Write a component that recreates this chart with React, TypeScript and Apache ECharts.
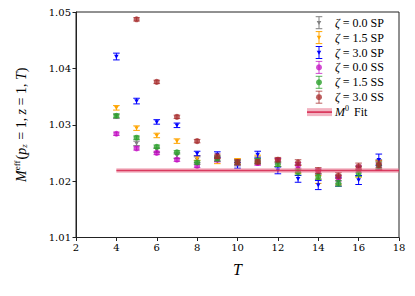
import React, { useEffect, useRef } from "react";
import * as echarts from "echarts";

const T = [4, 5, 6, 7, 8, 9, 10, 11, 12, 13, 14, 15, 16, 17];

const sp00 = [1.0315, 1.0267, 1.0255, 1.0245, 1.0238, 1.024, 1.0233, 1.0237, 1.0233, 1.0222, 1.0212, 1.0203, 1.0218, 1.0229];
const sp00Err = [0.0004, 0.0004, 0.0004, 0.0005, 0.0005, 0.0005, 0.0006, 0.0006, 0.0007, 0.0007, 0.0008, 0.0008, 0.0008, 0.0009];
const sp15 = [1.033, 1.0294, 1.0281, 1.0271, 1.0241, 1.0236, 1.0235, 1.024, 1.0232, 1.0221, 1.0203, 1.0201, 1.0215, 1.0228];
const sp15Err = [0.0004, 0.0004, 0.0004, 0.0004, 0.0004, 0.0005, 0.0005, 0.0006, 0.0006, 0.0007, 0.0007, 0.0008, 0.0008, 0.0008];
const sp30 = [1.0421, 1.0342, 1.0305, 1.0299, 1.0249, 1.0247, 1.0228, 1.0247, 1.0219, 1.0204, 1.0193, 1.0199, 1.0202, 1.0238];
const sp30Err = [0.0006, 0.0005, 0.0004, 0.0004, 0.0004, 0.0005, 0.0005, 0.0006, 0.0006, 0.0006, 0.0008, 0.0008, 0.0008, 0.001];
const ss00 = [1.0284, 1.0258, 1.025, 1.0238, 1.0227, 1.0238, 1.0232, 1.0232, 1.0236, 1.0228, 1.0217, 1.0205, 1.0222, 1.0226];
const ss00Err = [0.0003, 0.0003, 0.0003, 0.0003, 0.0003, 0.0004, 0.0004, 0.0004, 0.0004, 0.0005, 0.0005, 0.0005, 0.0006, 0.0006];
const ss15 = [1.0316, 1.0277, 1.0261, 1.0251, 1.0233, 1.024, 1.0233, 1.0236, 1.023, 1.0216, 1.0208, 1.0196, 1.0214, 1.0228];
const ss15Err = [0.0003, 0.0003, 0.0003, 0.0003, 0.0003, 0.0004, 0.0004, 0.0004, 0.0004, 0.0005, 0.0005, 0.0005, 0.0006, 0.0006];
const ss30 = [null, 1.0487, 1.0376, 1.0314, 1.0271, 1.0244, 1.0234, 1.0234, 1.0238, 1.0233, 1.0219, 1.021, 1.0226, 1.023];
const ss30Err = [0, 0.0003, 0.0003, 0.0003, 0.0003, 0.0004, 0.0004, 0.0004, 0.0004, 0.0005, 0.0005, 0.0005, 0.0006, 0.0006];

const fitValue = 1.0219;
const fitErr = 0.0004;
const fitRange = [4, 18];

const legendLabels = ["0.0 SP", "1.5 SP", "3.0 SP", "0.0 SS", "1.5 SS", "3.0 SS"];

const SERIF = '"Liberation Serif", "DejaVu Serif", serif';
const TICKFONT = '"DejaVu Serif", serif';

type Cfg = { name: string; vals: (number | null)[]; errs: number[]; color: string; marker: "tri" | "circle"; opacity: number };

const configs: Cfg[] = [
  { name: legendLabels[0], vals: sp00, errs: sp00Err, color: "#808080", marker: "tri", opacity: 1 },
  { name: legendLabels[1], vals: sp15, errs: sp15Err, color: "#FFA500", marker: "tri", opacity: 1 },
  { name: legendLabels[2], vals: sp30, errs: sp30Err, color: "#0000FF", marker: "tri", opacity: 1 },
  { name: legendLabels[3], vals: ss00, errs: ss00Err, color: "#BF00BF", marker: "circle", opacity: 0.7 },
  { name: legendLabels[4], vals: ss15, errs: ss15Err, color: "#2ca02c", marker: "circle", opacity: 0.8 },
  { name: legendLabels[5], vals: ss30, errs: ss30Err, color: "#A52A2A", marker: "circle", opacity: 0.75 },
];

function markerShape(kind: string, cx: number, cy: number, color: string, opacity: number) {
  if (kind === "circle") {
    return { type: "circle", shape: { cx, cy, r: 3 }, style: { fill: color, opacity } };
  }
  return {
    type: "polygon",
    shape: { points: [[cx - 2.3, cy - 1.8], [cx + 2.3, cy - 1.8], [cx, cy + 2.2]] },
    style: { fill: color, opacity },
  };
}

function errBarChildren(cx: number, yTop: number, yBot: number, cy: number, color: string, kind: string, opacity: number) {
  const cap = 3.3;
  const ls = { stroke: color, lineWidth: 1, opacity };
  return [
    { type: "line", shape: { x1: cx, y1: yTop, x2: cx, y2: yBot }, style: ls },
    { type: "line", shape: { x1: cx - cap, y1: yTop, x2: cx + cap, y2: yTop }, style: ls },
    { type: "line", shape: { x1: cx - cap, y1: yBot, x2: cx + cap, y2: yBot }, style: ls },
    markerShape(kind, cx, cy, color, opacity),
  ];
}

function makeSeries(c: Cfg) {
  const data: number[][] = [];
  T.forEach((t, i) => {
    const v = c.vals[i];
    if (v != null) data.push([t, v, c.errs[i]]);
  });
  return {
    type: "custom",
    name: c.name,
    data,
    clip: true,
    renderItem: (params: any, api: any) => {
      const x = api.value(0);
      const y = api.value(1);
      const e = api.value(2);
      const p = api.coord([x, y]);
      const top = api.coord([x, y + e]);
      const bot = api.coord([x, y - e]);
      return { type: "group", children: errBarChildren(p[0], top[1], bot[1], p[1], c.color, c.marker, c.opacity) };
    },
  };
}

export default function App() {
  const ref = useRef<HTMLDivElement>(null);
  useEffect(() => {
    document.body.style.margin = "0";
    const chart = echarts.init(ref.current!, null, { renderer: "svg" });

    const legendGraphics: any[] = [];
    const lx = 319;
    const tx = 335;
    configs.forEach((c, i) => {
      const y = 22.7 + i * 14.9;
      legendGraphics.push(...errBarChildren(lx, y - 6, y + 6, y, c.color, c.marker, c.opacity));
      legendGraphics.push({
        type: "text",
        x: tx,
        y,
        style: {
          text: "{i|ζ} = " + c.name,
          fontFamily: SERIF,
          fontSize: 12,
          fill: "#000",
          verticalAlign: "middle",
          rich: { i: { fontStyle: "italic", fontFamily: SERIF, fontSize: 12 } },
        },
      });
    });
    const fy = 22.7 + 6 * 14.9;
    legendGraphics.push({ type: "rect", shape: { x: 307, y: fy - 4, width: 25, height: 8 }, style: { fill: "#e8768f", opacity: 0.55 } });
    legendGraphics.push({ type: "line", shape: { x1: 307, y1: fy, x2: 332, y2: fy }, style: { stroke: "#d6254d", lineWidth: 1.5 } });
    legendGraphics.push({
      type: "text",
      x: tx,
      y: fy,
      style: {
        text: "{i|M}{s|0} Fit",
        fontFamily: SERIF,
        fontSize: 12,
        fill: "#000",
        verticalAlign: "middle",
        rich: {
          i: { fontStyle: "italic", fontFamily: SERIF, fontSize: 12 },
          s: { fontFamily: SERIF, fontSize: 8, padding: [0, 2, 7, 0] },
        },
      },
    });

    const fitSeries = {
      type: "custom",
      name: "fit",
      data: [[fitRange[0], fitRange[1], fitValue, fitErr]],
      renderItem: (params: any, api: any) => {
        const x0 = api.value(0), x1 = api.value(1), v = api.value(2), e = api.value(3);
        const a = api.coord([x0, v + e]);
        const b = api.coord([x1, v - e]);
        const m = api.coord([x0, v]);
        return {
          type: "group",
          children: [
            { type: "rect", shape: { x: a[0], y: a[1], width: b[0] - a[0], height: b[1] - a[1] }, style: { fill: "#e8768f", opacity: 0.55 } },
            { type: "line", shape: { x1: a[0], y1: m[1], x2: b[0], y2: m[1] }, style: { stroke: "#d6254d", lineWidth: 1.5, opacity: 0.85 } },
          ],
        };
      },
    };

    chart.setOption({
      animation: false,
      backgroundColor: "#fff",
      grid: { left: 76, right: 16, top: 12, bottom: 58.5, show: true, borderColor: "#222", borderWidth: 1 },
      xAxis: {
        type: "value",
        min: 2,
        max: 18,
        interval: 2,
        name: "{i|T}",
        nameLocation: "middle",
        nameGap: 24,
        nameTextStyle: { rich: { i: { fontStyle: "italic", fontFamily: SERIF, fontSize: 16, color: "#000" } } },
        axisLine: { show: true, lineStyle: { color: "#222" } },
        axisTick: { show: true, inside: false, length: 3.5, lineStyle: { color: "#222" } },
        axisLabel: { fontFamily: TICKFONT, fontSize: 10, color: "#000", margin: 5 },
        splitLine: { show: false },
      },
      yAxis: {
        type: "value",
        min: 1.01,
        max: 1.05,
        interval: 0.01,
        name: "{i|M}{sup|eff}({i|p}{sub|z} = 1, {i|z} = 1, {i|T})",
        nameLocation: "middle",
        nameGap: 46,
        nameRotate: 90,
        nameTextStyle: {
          fontFamily: SERIF,
          fontSize: 14,
          color: "#000",
          rich: {
            i: { fontStyle: "italic", fontFamily: SERIF, fontSize: 14, color: "#000" },
            sup: { fontFamily: SERIF, fontSize: 9, color: "#000", padding: [0, 1, 9, 0] },
            sub: { fontFamily: SERIF, fontSize: 9, fontStyle: "italic", color: "#000", padding: [6, 1, 0, 0] },
          },
        },
        axisLine: { show: true, lineStyle: { color: "#222" } },
        axisTick: { show: true, inside: false, length: 3.5, lineStyle: { color: "#222" } },
        axisLabel: { fontFamily: TICKFONT, fontSize: 10, color: "#000", margin: 5, formatter: (v: number) => v.toFixed(2) },
        splitLine: { show: false },
      },
      series: [...configs.map(makeSeries), fitSeries],
      graphic: legendGraphics,
    });
    return () => chart.dispose();
  }, []);
  return <div ref={ref} style={{ width: 415, height: 296 }} />;
}
